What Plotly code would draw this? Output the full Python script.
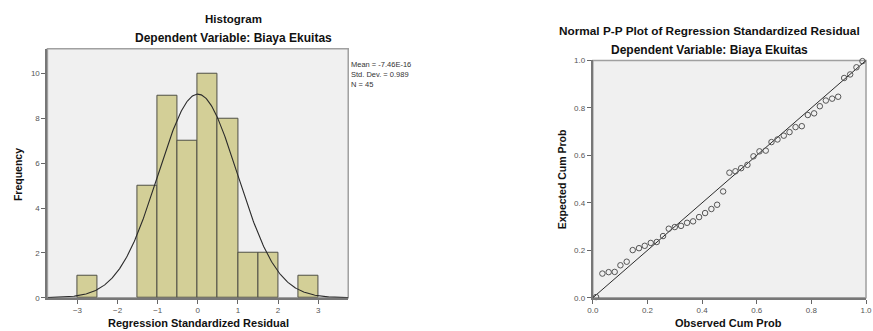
import plotly.graph_objects as go
import numpy as np

# Histogram data (bin centers, width 0.5)
bin_centers = [-2.75, -1.25, -0.75, -0.25, 0.25, 0.75, 1.25, 1.75, 2.75]
frequencies = [1, 5, 9, 7, 10, 8, 2, 2, 1]
mean_val = -7.46e-16
std_val = 0.989
n_val = 45
bin_width = 0.5

# P-P plot data
observed_cum = [0.012, 0.035, 0.058, 0.080, 0.101, 0.124, 0.146, 0.169, 0.190, 0.212,
                0.234, 0.257, 0.278, 0.300, 0.323, 0.345, 0.367, 0.389, 0.411, 0.434,
                0.455, 0.477, 0.500, 0.522, 0.543, 0.566, 0.588, 0.610, 0.633, 0.654,
                0.676, 0.699, 0.720, 0.742, 0.765, 0.787, 0.810, 0.831, 0.853, 0.876,
                0.898, 0.920, 0.942, 0.965, 0.987]
expected_cum = [0.003, 0.102, 0.108, 0.109, 0.137, 0.152, 0.201, 0.209, 0.219, 0.231,
                0.235, 0.260, 0.291, 0.298, 0.303, 0.316, 0.322, 0.340, 0.357, 0.374,
                0.392, 0.448, 0.527, 0.533, 0.546, 0.560, 0.596, 0.617, 0.620, 0.656,
                0.667, 0.683, 0.698, 0.719, 0.723, 0.770, 0.777, 0.807, 0.831, 0.839,
                0.847, 0.926, 0.941, 0.971, 0.997]

hist_ticks = [-3, -2, -1, 0, 1, 2, 3]
pp_ticks = [0.0, 0.2, 0.4, 0.6, 0.8, 1.0]

W, H = 873, 331
FONT = "Liberation Sans, Arial, sans-serif"

def px_x(p):
    return p / W

def px_y(p):
    return 1 - p / H

fig = go.Figure()

fig.add_trace(go.Bar(
    x=bin_centers, y=frequencies, width=bin_width,
    marker=dict(color="#d3cf97", line=dict(color="#4f4f45", width=1)),
    xaxis="x", yaxis="y", showlegend=False, hoverinfo="skip"))

xs = np.linspace(-3.75, 3.75, 400)
ys = n_val * bin_width / (std_val * np.sqrt(2 * np.pi)) * np.exp(-0.5 * ((xs - mean_val) / std_val) ** 2)
fig.add_trace(go.Scatter(x=xs, y=ys, mode="lines", line=dict(color="#2b2b2b", width=1.1),
                         xaxis="x", yaxis="y", showlegend=False, hoverinfo="skip"))

fig.add_trace(go.Scatter(x=[0, 1], y=[0, 1], mode="lines", line=dict(color="#2b2b2b", width=1),
                         xaxis="x2", yaxis="y2", showlegend=False, hoverinfo="skip", cliponaxis=False))
fig.add_trace(go.Scatter(x=observed_cum, y=expected_cum, mode="markers",
                         marker=dict(symbol="circle-open", size=5.5, color="#555555", line=dict(width=1)),
                         xaxis="x2", yaxis="y2", showlegend=False, cliponaxis=False))

axis_common = dict(showgrid=False, zeroline=False, ticks="outside", ticklen=4, tickwidth=1,
                   tickcolor="#666666", showline=True, linecolor="#777777", linewidth=2,
                   ticklabeloverflow="allow",
                   tickfont=dict(family=FONT, size=8, color="#555555"))

fig.update_layout(
    width=W, height=H, margin=dict(l=0, r=0, t=0, b=0),
    paper_bgcolor="white", plot_bgcolor="#f0f0f0",
    bargap=0,
    xaxis=dict(domain=[px_x(42), px_x(347)], range=[-3.75, 3.75], tickvals=hist_ticks,
               anchor="y", **axis_common),
    yaxis=dict(domain=[px_y(302), px_y(46)], range=[0, 11.1], tickvals=[0, 2, 4, 6, 8, 10],
               anchor="x", **axis_common),
    xaxis2=dict(domain=[px_x(595), px_x(872)], range=[0, 1], tickvals=pp_ticks,
                tickformat=".1f", anchor="y2", **axis_common),
    yaxis2=dict(domain=[px_y(302), px_y(58)], range=[0, 1], tickvals=pp_ticks,
                tickformat=".1f", anchor="x2", **axis_common),
)

# light frame on top/right
fig.add_shape(type="rect", xref="x domain", yref="y domain", x0=0, x1=1, y0=0, y1=1,
              line=dict(color="#a0a0a0", width=1.5), layer="below")
fig.add_shape(type="rect", xref="x2 domain", yref="y2 domain", x0=0, x1=1, y0=0, y1=1,
              line=dict(color="#a0a0a0", width=1.5), layer="below")

def ann(text, x, y, size, bold=True, angle=0, xanchor="center", color="#111111"):
    fig.add_annotation(text=f"<b>{text}</b>" if bold else text, x=px_x(x), y=px_y(y),
                       xref="paper", yref="paper", showarrow=False, textangle=angle,
                       xanchor=xanchor, yanchor="middle",
                       font=dict(family=FONT, size=size, color=color))

ann("Histogram", 231, 15, 11.5)
ann("Dependent Variable: Biaya Ekuitas", 231, 35, 12)
ann("Regression Standardized Residual", 195, 327.5, 11)
ann("Frequency", 12, 175, 10.5, angle=-90)

fig.add_annotation(text="Mean = -7.46E-16<br>Std. Dev. = 0.989<br>N = 45",
                   x=px_x(348), y=px_y(55), xref="paper", yref="paper", showarrow=False,
                   xanchor="left", yanchor="top", align="left",
                   font=dict(family=FONT, size=7.5, color="#333333"))

ann("Normal P-P Plot of Regression Standardized Residual", 713, 28, 11.8)
ann("Dependent Variable: Biaya Ekuitas", 713, 47.5, 12)
ann("Observed Cum Prob", 733, 327.5, 11)
ann("Expected Cum Prob", 564, 180, 10.5, angle=-90)

fig.write_html("out.html", config={"displayModeBar": False},
               post_script="document.body.style.margin='0';document.body.style.overflow='hidden';")
